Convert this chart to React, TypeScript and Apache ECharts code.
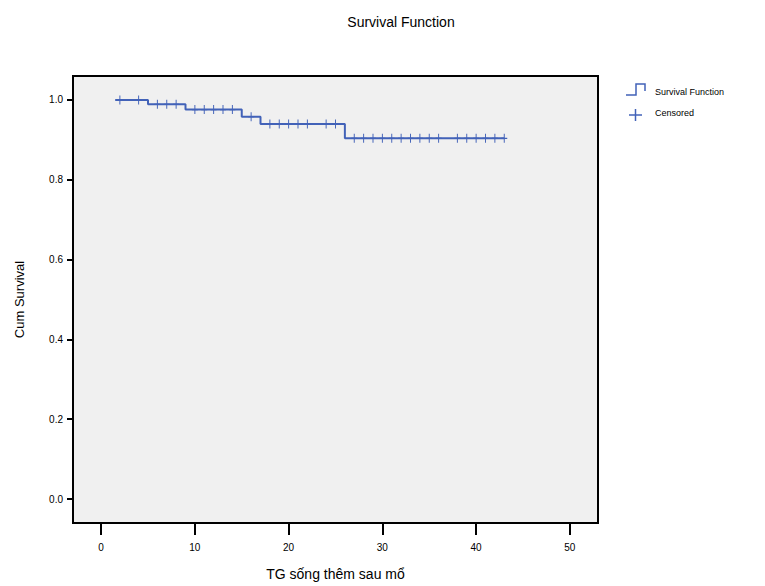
import React, { useEffect, useRef } from "react";
import * as echarts from "echarts";

// Kaplan-Meier steps: time at which each level starts, and survival level
const stepTimes = [1.5, 5, 9, 15, 17, 26, 43];
const stepLevels = [1.0, 0.989, 0.976, 0.958, 0.94, 0.904, 0.904];

// Censored observations: [time, level]
const censoredTimes = [2, 4, 6, 7, 8, 10, 11, 12, 13, 14, 16, 18, 19, 20, 21, 22, 24, 25, 27, 28, 29, 30, 31, 32, 33, 34, 35, 36, 38, 39, 40, 41, 42, 43];
const censoredLevels = [1.0, 1.0, 0.989, 0.989, 0.989, 0.976, 0.976, 0.976, 0.976, 0.976, 0.958, 0.94, 0.94, 0.94, 0.94, 0.94, 0.94, 0.94, 0.904, 0.904, 0.904, 0.904, 0.904, 0.904, 0.904, 0.904, 0.904, 0.904, 0.904, 0.904, 0.904, 0.904, 0.904, 0.904];

const xTicks = [0, 10, 20, 30, 40, 50];
const yTicks = [0, 0.2, 0.4, 0.6, 0.8, 1.0];

const FONT = "Liberation Sans, Arial, sans-serif";
const BLUE = "#4262b8";
const PLUS = "path://M0,4.3H10V5.7H0Z M4.2,0H5.8V10H4.2Z";

export default function App() {
  const ref = useRef<HTMLDivElement>(null);
  useEffect(() => {
    document.body.style.margin = "0";
    const chart = echarts.init(ref.current!, undefined, { renderer: "svg" });
    const line = stepTimes.map((t, i) => [t, stepLevels[i]]);
    const cens = censoredTimes.map((t, i) => [t, censoredLevels[i]]);
    chart.setOption({
      animation: false,
      backgroundColor: "#ffffff",
      title: {
        text: "Survival Function",
        left: 396,
        top: 10,
        textAlign: "center",
        textStyle: { fontFamily: FONT, fontSize: 14, fontWeight: "normal", color: "#000" },
      },
      grid: {
        left: 73,
        top: 76,
        width: 525,
        height: 451,
        show: true,
        backgroundColor: "#f0f0f0",
        borderColor: "#000",
        borderWidth: 2,
      },
      xAxis: {
        type: "value",
        min: -3,
        max: 53,
        offset: 1,
        axisLine: { show: false, onZero: false },
        splitLine: { show: false },
        axisTick: { show: true, length: 11, customValues: xTicks, lineStyle: { color: "#000", width: 2 } },
        axisLabel: { customValues: xTicks, margin: 18, color: "#000", fontFamily: FONT, fontSize: 10 },
        name: "TG sống thêm sau mổ",
        nameLocation: "middle",
        nameGap: 43,
        nameTextStyle: { fontFamily: FONT, fontSize: 14, color: "#000" },
      },
      yAxis: {
        type: "value",
        min: -0.06,
        max: 1.06,
        axisLine: { show: false, onZero: false },
        splitLine: { show: false },
        axisTick: { show: true, length: 6, customValues: yTicks, lineStyle: { color: "#000", width: 2 } },
        axisLabel: {
          customValues: yTicks,
          margin: 10,
          color: "#000",
          fontFamily: FONT,
          fontSize: 10,
          formatter: (v: number) => v.toFixed(1),
        },
        name: "Cum Survival",
        nameLocation: "middle",
        nameGap: 47,
        nameTextStyle: { fontFamily: FONT, fontSize: 13, color: "#000" },
      },
      series: [
        {
          type: "line",
          step: "end",
          data: line,
          showSymbol: false,
          lineStyle: { color: BLUE, width: 2 },
          z: 2,
        },
        {
          type: "scatter",
          data: cens,
          symbol: PLUS,
          symbolSize: [6, 9],
          itemStyle: { color: BLUE, opacity: 1 },
          z: 3,
        },
      ],
      graphic: [
        {
          type: "polyline",
          shape: { points: [[626, 95], [636, 95], [636, 84], [645, 84], [645, 91]] },
          style: { stroke: BLUE, lineWidth: 1.5, fill: null },
        },
        {
          type: "text",
          x: 655,
          y: 92,
          style: { text: "Survival Function", font: `9px ${FONT}`, fill: "#000", verticalAlign: "middle" },
        },
        {
          type: "line",
          shape: { x1: 629, y1: 115, x2: 642, y2: 115 },
          style: { stroke: BLUE, lineWidth: 1.5 },
        },
        {
          type: "line",
          shape: { x1: 635.5, y1: 109, x2: 635.5, y2: 121 },
          style: { stroke: BLUE, lineWidth: 1.5 },
        },
        {
          type: "text",
          x: 655,
          y: 113,
          style: { text: "Censored", font: `9px ${FONT}`, fill: "#000", verticalAlign: "middle" },
        },
      ],
    });
    return () => chart.dispose();
  }, []);
  return <div ref={ref} style={{ width: 765, height: 586 }} />;
}
